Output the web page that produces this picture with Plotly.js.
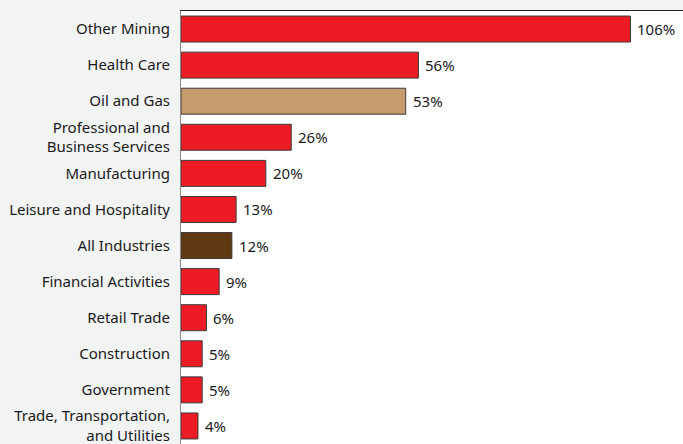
<!DOCTYPE html>
<html><head><meta charset="utf-8">
<script src="https://cdn.plot.ly/plotly-3.0.1.min.js"></script>
<style>html,body{margin:0;padding:0;background:#f2f3f3;}</style>
</head><body><div id="chart" style="width:683px;height:444px;"></div>
<script>
const categories = ["Other Mining","Health Care","Oil and Gas","Professional and<br>Business Services","Manufacturing","Leisure and Hospitality","All Industries","Financial Activities","Retail Trade","Construction","Government","Trade, Transportation,<br>and Utilities"];
const values = [106,56,53,26,20,13,12,9,6,5,5,4];
const barColors = ["#ed1c24","#ed1c24","#c69c6d","#ed1c24","#ed1c24","#ed1c24","#603913","#ed1c24","#ed1c24","#ed1c24","#ed1c24","#ed1c24"];

const trace = {
  type: "bar", orientation: "h",
  x: values, y: categories,
  marker: {color: barColors, line: {color: "#3a3a3a", width: 1}},
  width: 0.72, hoverinfo: "none"
};
const annotations = values.map((v,i) => ({
  x: v, y: categories[i], xref: "x", yref: "y",
  text: v + "%", showarrow: false, xanchor: "left", xshift: 5,
  font: {family: "Noto Sans, Open Sans, sans-serif", size: 15, color: "#1a1a1a"}
}));
const layout = {
  width: 683, height: 444,
  margin: {l: 181, r: 0, t: 11, b: 0, pad: 0},
  paper_bgcolor: "#f2f3f3", plot_bgcolor: "#ffffff",
  showlegend: false,
  xaxis: {range: [0, 118.4], side: "top", showline: true, linecolor: "#222", linewidth: 1,
          showgrid: false, zeroline: false, showticklabels: false, ticks: ""},
  yaxis: {range: [11.5, -0.5], showline: true, linecolor: "#888", linewidth: 1,
          showgrid: false, zeroline: false, ticks: "", ticklabelstandoff: 7,
          tickfont: {family: "Noto Sans, Open Sans, sans-serif", size: 15, color: "#1a1a1a"}},
  annotations: annotations,
  font: {family: "Noto Sans, sans-serif"}
};
Plotly.newPlot("chart", [trace], layout, {displayModeBar: false, staticPlot: true});
</script></body></html>
